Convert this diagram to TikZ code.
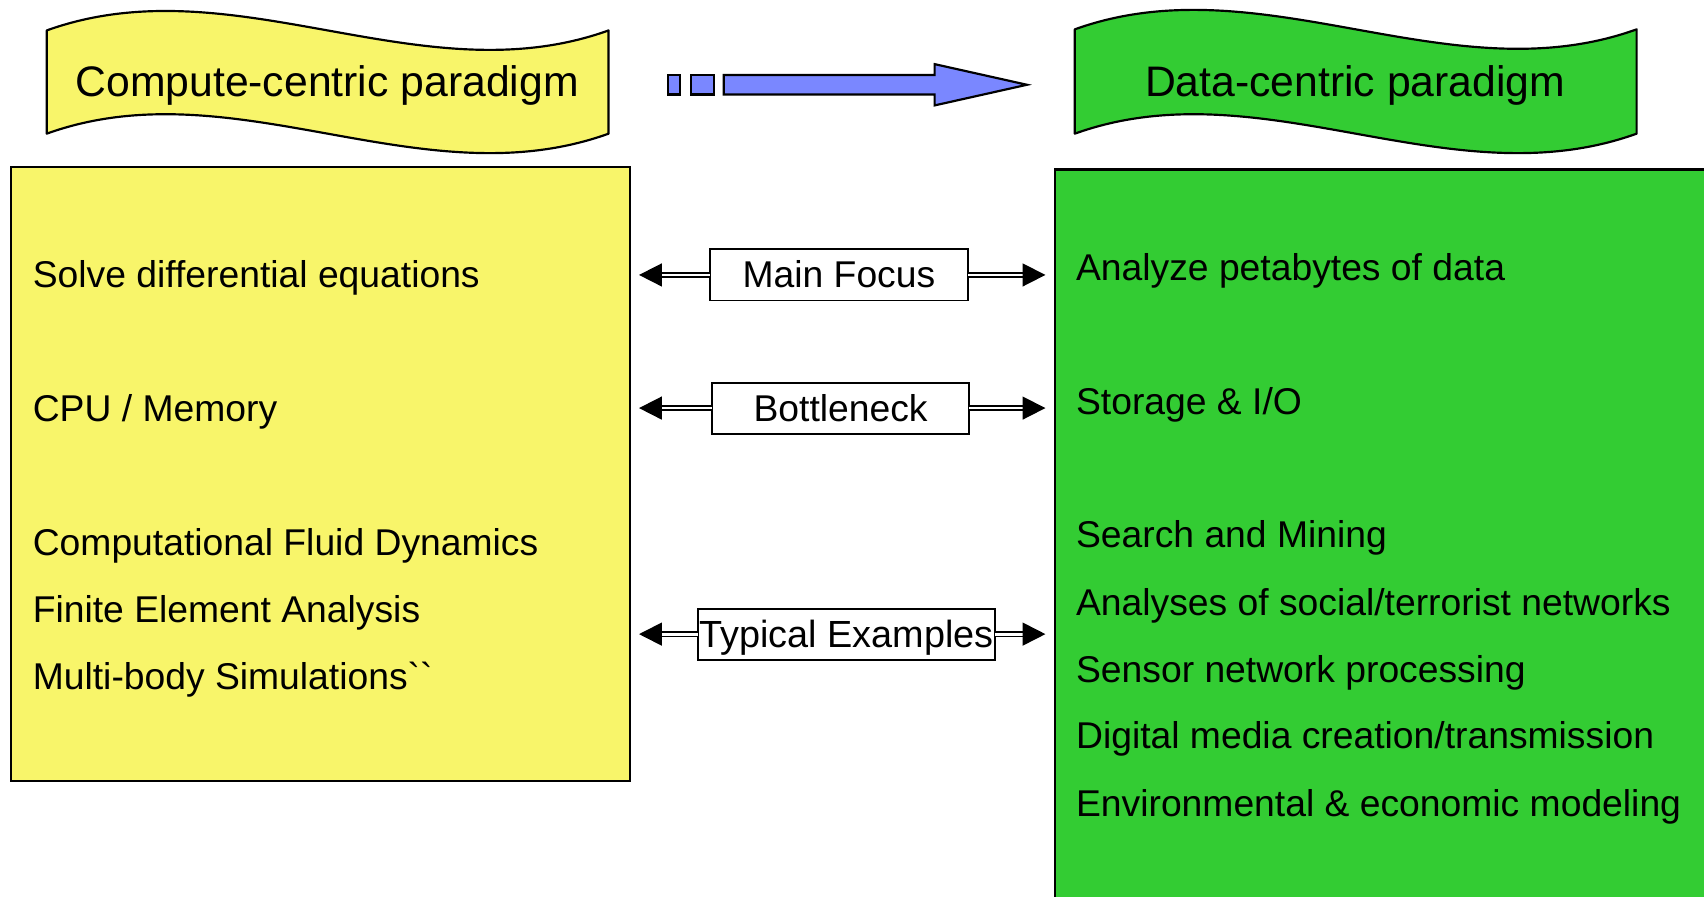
\documentclass[tikz,border=0pt]{standalone}
\usepackage{fontspec}
\setmainfont{Liberation Sans}
% same face without TeX quote ligatures, for literal grave accents
\newfontfamily\rawsans{Liberation Sans}[Ligatures=TeXOff]
\usetikzlibrary{arrows.meta}
\definecolor{cyel}{RGB}{248,245,106}
\definecolor{cgrn}{RGB}{51,204,51}
\definecolor{cblu}{RGB}{122,135,255}
\begin{document}
\begin{tikzpicture}[x=1pt,y=-1pt,
  bodytext/.style={anchor=base west, inner sep=0pt, font=\fontsize{34.3}{40}\selectfont},
  titletext/.style={anchor=base, inner sep=0pt, font=\fontsize{39.3}{46}\selectfont},
  bigbox/.style={draw, line width=2pt, inner sep=0pt, outer sep=0pt},
  banner/.style={draw, line width=2pt, line join=round},
  tagbox/.style={draw, line width=1.8pt, fill=white, inner sep=0pt, outer sep=0pt,
    minimum height=47pt, text height=26pt, text depth=2pt,
    font=\fontsize{34.3}{40}\selectfont},
  dblarrow/.style={double, double distance=2.6pt, line width=1.6pt,
    -{Triangle[length=21pt,width=21pt]}},
  bluepart/.style={draw, line width=2pt, fill=cblu, line join=miter}
]
\useasboundingbox (0,0) rectangle (1568,825);

% paradigm banners (wave shapes)
\draw[banner, fill=cyel] (43,28) .. controls (215.3,-34) and (387.7,90) .. (560,28)
  -- (560,123) .. controls (387.7,185) and (215.3,61) .. (43,123) -- cycle;
\node[titletext] (ctitle) at (301,89) {Compute-centric paradigm};

\draw[banner, fill=cgrn] (989,27) .. controls (1161.3,-35) and (1333.7,89) .. (1506,27)
  -- (1506,123) .. controls (1333.7,185) and (1161.3,61) .. (989,123) -- cycle;
\node[titletext] (dtitle) at (1247,89) {Data-centric paradigm};

% shift arrow between the paradigms
\draw[bluepart] (615,69) rectangle (626,87);
\draw[bluepart] (636,69) rectangle (657,87);
\draw[bluepart] (666,69) -- (860,69) -- (860,59) -- (945,78) -- (860,97) -- (860,87) -- (666,87) -- cycle;

% the two columns
\node[bigbox, fill=cyel, minimum width=570pt, minimum height=565pt] (cbox) at (295,436.5) {};
\node[bigbox, fill=cgrn, minimum width=640pt, minimum height=720pt] (dbox) at (1291,516) {};

% compute-centric items
\node[bodytext] (c1) at (30,265) {Solve differential equations};
\node[bodytext] (c2) at (30,388) {CPU / Memory};
\node[bodytext] (c3) at (30,511) {Computational Fluid Dynamics};
\node[bodytext] (c4) at (30,573) {Finite Element Analysis};
\node[bodytext] (c5) at (30,634) {Multi-body Simulations{\rawsans\char"60\char"60}};

% data-centric items
\node[bodytext] (d1) at (990,258) {Analyze petabytes of data};
\node[bodytext] (d2) at (990,381) {Storage \& I/O};
\node[bodytext] (d3) at (990,504) {Search and Mining};
\node[bodytext] (d4) at (990,566) {Analyses of social/terrorist networks};
\node[bodytext] (d5) at (990,628) {Sensor network processing};
\node[bodytext] (d6) at (990,689) {Digital media creation/transmission};
\node[bodytext] (d7) at (990,751) {Environmental \& economic modeling};

% comparison tags
\node[tagbox, minimum width=238pt] (mf) at (772,253) {Main Focus};
\node[tagbox, minimum width=237pt] (bn) at (773.5,375.5) {Bottleneck};
\node[tagbox, minimum width=274pt, font=\fontsize{34.8}{40}\selectfont] (te) at (779,583.5) {Typical Examples};

\foreach \t in {mf,bn,te}{
  \coordinate (\t L) at ([xshift=8pt]cbox.east |- \t.west);
  \coordinate (\t R) at ([xshift=-9pt]dbox.west |- \t.east);
  \draw[dblarrow] (\t.west) -- (\t L);
  \draw[dblarrow] (\t.east) -- (\t R);
}
\end{tikzpicture}
\end{document}
